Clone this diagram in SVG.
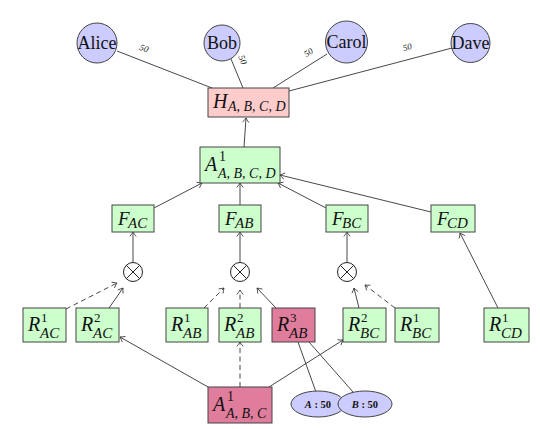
<svg xmlns="http://www.w3.org/2000/svg" width="540" height="429" viewBox="0 0 540 429">
<defs>
<marker id="arr" viewBox="-6 -5 8 10" markerWidth="8" markerHeight="10" markerUnits="userSpaceOnUse" refX="0" refY="0" orient="auto">
<path d="M-4.5,-3.2 Q-1.5,-0.8 0,0 Q-1.5,0.8 -4.5,3.2" fill="none" stroke="#333" stroke-width="0.8"/>
</marker>
</defs>
<style>
.g{fill:#ccffcc;stroke:#444;stroke-width:1}
.p{fill:#ffcccc;stroke:#444;stroke-width:1}
.d{fill:#e07c9c;stroke:#444;stroke-width:1}
.c{fill:#ccccff;stroke:#444;stroke-width:1}
.e{stroke:#333;stroke-width:0.9;fill:none}
.a{marker-end:url(#arr)}
.ds{stroke-dasharray:5,3.5}
.t{font-family:"Liberation Serif","DejaVu Serif",serif;fill:#111}
.m{font-family:"Liberation Serif","DejaVu Serif",serif;font-style:italic;fill:#111}
.l{font-family:"Liberation Serif","DejaVu Serif",serif;font-style:italic;font-size:9px;fill:#222}
</style>
<g id="connectors">
<line class="e" x1="117" y1="51" x2="212" y2="88"/>
<line class="e" x1="231" y1="59" x2="243" y2="88"/>
<line class="e" x1="327" y1="54" x2="273" y2="88"/>
<line class="e" x1="452" y1="48" x2="289" y2="91"/>
<text class="l" transform="translate(143,51) rotate(21)" text-anchor="middle">50</text>
<text class="l" transform="translate(240,61) rotate(67)" text-anchor="middle">50</text>
<text class="l" transform="translate(310,55) rotate(-32)" text-anchor="middle">50</text>
<text class="l" transform="translate(408,50) rotate(-15)" text-anchor="middle">50</text>
<line class="e a" x1="244" y1="147" x2="246" y2="118"/>
<line class="e a" x1="154" y1="208" x2="202" y2="183"/>
<line class="e a" x1="240" y1="205" x2="240" y2="183"/>
<line class="e a" x1="326" y1="208" x2="278" y2="183"/>
<line class="e a" x1="431" y1="212" x2="280" y2="175"/>
<line class="e a" x1="133" y1="262" x2="133" y2="232"/>
<line class="e a" x1="240" y1="262" x2="240" y2="232"/>
<line class="e a" x1="347" y1="262" x2="347" y2="232"/>
<line class="e a ds" x1="66" y1="309" x2="117" y2="283"/>
<line class="e a" x1="109" y1="308" x2="123" y2="288"/>
<line class="e a ds" x1="204" y1="308" x2="224" y2="288"/>
<line class="e a ds" x1="240" y1="308" x2="240" y2="290"/>
<line class="e a" x1="276" y1="308" x2="257" y2="288"/>
<line class="e a" x1="359" y1="308" x2="354" y2="288"/>
<line class="e a ds" x1="395" y1="308" x2="365" y2="285"/>
<line class="e a" x1="498" y1="308" x2="460" y2="233"/>
<line class="e a" x1="208" y1="387" x2="120" y2="337"/>
<line class="e a ds" x1="240" y1="387" x2="240" y2="342"/>
<line class="e a" x1="269" y1="387" x2="343" y2="340"/>
<line class="e" x1="298" y1="342" x2="316" y2="392"/>
<line class="e" x1="309" y1="342" x2="353" y2="392"/>
</g>
<g id="alice"><circle class="c" cx="97" cy="43" r="20"/><text class="t" x="97" y="49" font-size="18" text-anchor="middle">Alice</text></g>
<g id="bob"><circle class="c" cx="222" cy="43" r="18"/><text class="t" x="222" y="49" font-size="18" text-anchor="middle">Bob</text></g>
<g id="carol"><circle class="c" cx="346.5" cy="42" r="21"/><text class="t" x="346.5" y="48" font-size="18" text-anchor="middle">Carol</text></g>
<g id="dave"><circle class="c" cx="470.5" cy="43" r="19.5"/><text class="t" x="470.5" y="49" font-size="18" text-anchor="middle">Dave</text></g>
<g id="H"><rect class="p" x="208" y="88" width="81" height="29"/><text class="m" x="213" y="108" font-size="20">H</text><text class="m" x="228" y="111" font-size="14">A, B, C, D</text></g>
<g id="A1ABCD"><rect class="g" x="200" y="147" width="80" height="36"/><text class="m" x="205" y="171" font-size="20">A</text><text class="t" x="219" y="161" font-size="14">1</text><text class="m" x="218" y="178" font-size="14">A, B, C, D</text></g>
<g id="FAC"><rect class="g" x="112" y="205" width="42" height="27"/><text class="m" x="118" y="225" font-size="19">F</text><text class="m" x="128" y="228" font-size="15">AC</text></g>
<g id="FAB"><rect class="g" x="219" y="205" width="42" height="27"/><text class="m" x="225" y="225" font-size="19">F</text><text class="m" x="235" y="228" font-size="15">AB</text></g>
<g id="FBC"><rect class="g" x="326" y="205" width="42" height="27"/><text class="m" x="332" y="225" font-size="19">F</text><text class="m" x="342" y="228" font-size="15">BC</text></g>
<g id="FCD"><rect class="g" x="431" y="205" width="44" height="27"/><text class="m" x="437" y="225" font-size="19">F</text><text class="m" x="447" y="228" font-size="15">CD</text></g>
<g id="otimesAC"><circle cx="133" cy="272" r="9.5" fill="#fff" stroke="#222" stroke-width="1"/><path d="M126.3,265.3L139.7,278.7M139.7,265.3L126.3,278.7" stroke="#222" stroke-width="1"/></g>
<g id="otimesAB"><circle cx="240" cy="272" r="9.5" fill="#fff" stroke="#222" stroke-width="1"/><path d="M233.3,265.3L246.7,278.7M246.7,265.3L233.3,278.7" stroke="#222" stroke-width="1"/></g>
<g id="otimesBC"><circle cx="347" cy="272" r="9.5" fill="#fff" stroke="#222" stroke-width="1"/><path d="M340.3,265.3L353.7,278.7M353.7,265.3L340.3,278.7" stroke="#222" stroke-width="1"/></g>
<g id="R1AC"><rect class="g" x="23" y="308" width="43" height="34"/><text class="m" x="28" y="331" font-size="20">R</text><text class="t" x="41" y="322" font-size="13">1</text><text class="m" x="40" y="338" font-size="15">AC</text></g>
<g id="R2AC"><rect class="g" x="76" y="308" width="43" height="34"/><text class="m" x="81" y="331" font-size="20">R</text><text class="t" x="94" y="322" font-size="13">2</text><text class="m" x="93" y="338" font-size="15">AC</text></g>
<g id="R1AB"><rect class="g" x="166" y="308" width="42" height="34"/><text class="m" x="171" y="331" font-size="20">R</text><text class="t" x="184" y="322" font-size="13">1</text><text class="m" x="183" y="338" font-size="15">AB</text></g>
<g id="R2AB"><rect class="g" x="219" y="308" width="42" height="34"/><text class="m" x="224" y="331" font-size="20">R</text><text class="t" x="237" y="322" font-size="13">2</text><text class="m" x="236" y="338" font-size="15">AB</text></g>
<g id="R3AB"><rect class="d" x="272" y="308" width="43" height="34"/><text class="m" x="277" y="331" font-size="20">R</text><text class="t" x="290" y="322" font-size="13">3</text><text class="m" x="289" y="338" font-size="15">AB</text></g>
<g id="R2BC"><rect class="g" x="343" y="308" width="43" height="34"/><text class="m" x="348" y="331" font-size="20">R</text><text class="t" x="361" y="322" font-size="13">2</text><text class="m" x="360" y="338" font-size="15">BC</text></g>
<g id="R1BC"><rect class="g" x="395" y="308" width="44" height="34"/><text class="m" x="400" y="331" font-size="20">R</text><text class="t" x="413" y="322" font-size="13">1</text><text class="m" x="412" y="338" font-size="15">BC</text></g>
<g id="R1CD"><rect class="g" x="484" y="308" width="45" height="34"/><text class="m" x="489" y="331" font-size="20">R</text><text class="t" x="502" y="322" font-size="13">1</text><text class="m" x="501" y="338" font-size="15">CD</text></g>
<g id="A1ABC"><rect class="d" x="208" y="387" width="64" height="36"/><text class="m" x="213" y="411" font-size="20">A</text><text class="t" x="227" y="401" font-size="14">1</text><text class="m" x="226" y="418" font-size="14">A, B, C</text></g>
<g id="ellA"><ellipse class="c" cx="318" cy="404" rx="27" ry="13"/><text class="t" x="318" y="407.5" font-size="10.5" font-weight="bold" text-anchor="middle"><tspan font-style="italic">A</tspan> : 50</text></g>
<g id="ellB"><ellipse class="c" cx="365" cy="404" rx="27" ry="13"/><text class="t" x="365" y="407.5" font-size="10.5" font-weight="bold" text-anchor="middle"><tspan font-style="italic">B</tspan> : 50</text></g>
</svg>
